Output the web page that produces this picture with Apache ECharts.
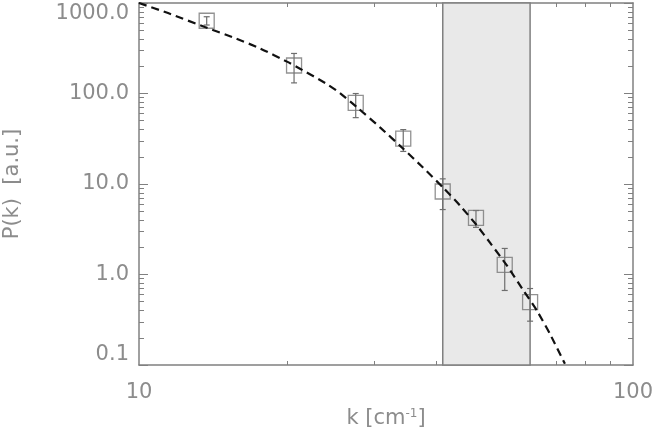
<!DOCTYPE html>
<html>
<head>
<meta charset="utf-8">
<script src="https://cdn.jsdelivr.net/npm/echarts@6/dist/echarts.min.js"></script>
<style>
  html, body { margin: 0; padding: 0; background: #fff; }
  #chart { width: 654px; height: 439px; }
</style>
</head>
<body>
<div id="chart"></div>
<script>
// measured points (k in cm^-1, P in a.u.)
var kData = [13.71, 20.60, 27.46, 34.27, 41.19, 48.1, 55.0, 61.9];
var pData = [637, 204, 78.6, 31.7, 8.26, 4.22, 1.28, 0.495];
var pHi   = [705, 277, 99.9, 39.9, 11.4, 5.09, 1.94, 0.70];
var pLo   = [571, 131, 54.1, 22.9, 5.22, 3.32, 0.666, 0.305];

// dashed fit curve
var fitK = [10.0, 11.45, 13.60, 15.64, 17.58, 19.93, 21.18, 24.02, 25.52, 27.62, 30.75,
            34.22, 37.57, 41.25, 44.65, 48.33, 51.34, 55.59, 59.88, 63.93, 67.92, 72.81];
var fitP = [1000, 774, 542, 410, 315, 225, 188, 127, 101, 70.4, 42.3,
            24.7, 15.2, 9.15, 5.78, 3.47, 2.25, 1.25, 0.678, 0.397, 0.220, 0.103];

// shaded k range
var bandRange = [41.2, 61.9];

// ticks
var xLabels = [10, 100];
var xMinor = [20, 30, 40, 50, 60, 70, 80, 90];
var yMajor = [0.1, 1, 10, 100, 1000];
var yMinor = [0.2, 0.3, 0.4, 0.5, 0.6, 0.7, 0.8, 0.9,
              2, 3, 4, 5, 6, 7, 8, 9,
              20, 30, 40, 50, 60, 70, 80, 90,
              200, 300, 400, 500, 600, 700, 800, 900];

var gray = '#808080';
var textGray = '#8c8c8c';
var font = 'DejaVu Sans';

var chart = echarts.init(document.getElementById('chart'));

var points = kData.map(function (k, i) { return [k, pData[i]]; });
var bars = kData.map(function (k, i) { return [k, pLo[i], pHi[i]]; });
var fit = fitK.map(function (k, i) { return [k, fitP[i]]; });

function xAxisCfg(pos, withLabels) {
  return {
    type: 'log', logBase: 10, min: 10, max: 100, position: pos,
    axisLine: { show: true, lineStyle: { color: gray, width: 1.5 } },
    axisTick: { show: true, inside: true, length: 4, customValues: xMinor,
                lineStyle: { color: gray, width: 1 } },
    axisLabel: withLabels ? {
      show: true, customValues: xLabels, margin: 17,
      color: textGray, fontFamily: font, fontSize: 21
    } : { show: false },
    splitLine: { show: false },
    name: withLabels ? 'k [cm{sup|-1}]' : '',
    nameLocation: 'middle', nameGap: 42,
    nameTextStyle: {
      color: textGray, fontFamily: font, fontSize: 21,
      rich: { sup: { fontSize: 12, fontFamily: font, color: textGray, padding: [0, 0, 10, 0] } }
    }
  };
}

function yAxisCfg(pos, major, withLabels) {
  return {
    type: 'log', logBase: 10, min: 0.1, max: 1000, position: pos,
    axisLine: { show: major, lineStyle: { color: gray, width: 1.5 } },
    axisTick: { show: true, inside: true, length: major ? 9 : 5,
                customValues: major ? yMajor : yMinor,
                lineStyle: { color: gray, width: 1 } },
    axisLabel: withLabels ? {
      show: true, customValues: yMajor, margin: 10,
      color: textGray, fontFamily: font, fontSize: 21,
      verticalAlignMinLabel: 'bottom', verticalAlignMaxLabel: 'top',
      formatter: function (v) { return Number(v).toFixed(1); }
    } : { show: false },
    splitLine: { show: false },
    name: withLabels ? 'P(k)  [a.u.]' : '',
    nameLocation: 'middle', nameGap: 116, nameRotate: 90,
    nameTextStyle: { color: textGray, fontFamily: font, fontSize: 21 }
  };
}

chart.setOption({
  animation: false,
  backgroundColor: '#fff',
  grid: { left: 139, right: 21, top: 3, bottom: 74, containLabel: false, outerBoundsMode: 'none' },
  xAxis: [xAxisCfg('bottom', true), xAxisCfg('top', false)],
  yAxis: [
    yAxisCfg('left', true, true),
    yAxisCfg('left', false, false),
    yAxisCfg('right', true, false),
    yAxisCfg('right', false, false)
  ],
  series: [
    {
      type: 'line', data: [], xAxisIndex: 0, yAxisIndex: 0, silent: true,
      markArea: {
        silent: true,
        itemStyle: { color: '#e9e9e9', borderColor: gray, borderWidth: 1.5 },
        data: [[{ xAxis: bandRange[0] }, { xAxis: bandRange[1] }]]
      }
    },
    {
      type: 'custom', xAxisIndex: 0, yAxisIndex: 0, data: bars, z: 3,
      encode: { x: 0, y: [1, 2] },
      renderItem: function (params, api) {
        var lo = api.coord([api.value(0), api.value(1)]);
        var hi = api.coord([api.value(0), api.value(2)]);
        var w = 3;
        var st = { stroke: '#6e6e6e', lineWidth: 1.2 };
        return {
          type: 'group',
          children: [
            { type: 'line', shape: { x1: lo[0], y1: lo[1], x2: hi[0], y2: hi[1] }, style: st },
            { type: 'line', shape: { x1: lo[0] - w, y1: lo[1], x2: lo[0] + w, y2: lo[1] }, style: st },
            { type: 'line', shape: { x1: hi[0] - w, y1: hi[1], x2: hi[0] + w, y2: hi[1] }, style: st }
          ]
        };
      }
    },
    {
      type: 'scatter', xAxisIndex: 0, yAxisIndex: 0, data: points, z: 4,
      symbol: 'rect', symbolSize: 15,
      itemStyle: { color: 'rgba(0,0,0,0)', borderColor: '#777', borderWidth: 1.3 }
    },
    {
      type: 'line', xAxisIndex: 0, yAxisIndex: 0, data: fit, z: 5,
      showSymbol: false, smooth: 0.2, clip: true,
      lineStyle: { color: '#111', width: 2.2, type: [8, 5] }
    }
  ]
});
</script>
</body>
</html>
